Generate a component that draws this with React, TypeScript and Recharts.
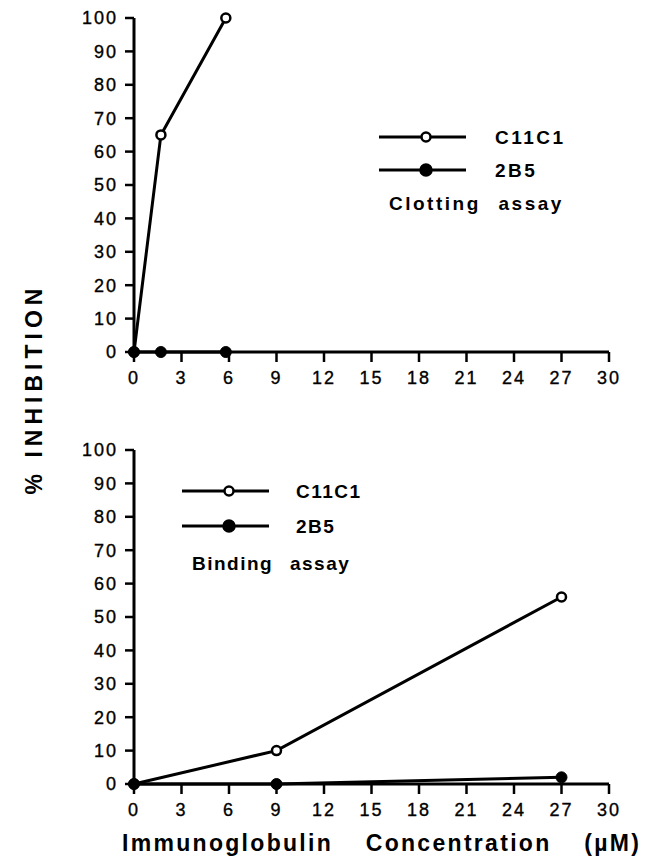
import React from "react";
import { LineChart, Line, XAxis, YAxis, Legend } from "recharts";

// concentration axis (µM) and % inhibition axis
const xTicks = [0, 3, 6, 9, 12, 15, 18, 21, 24, 27, 30];
const yTicks = [0, 10, 20, 30, 40, 50, 60, 70, 80, 90, 100];

// clotting assay
const clottingDose = [0, 1.7, 5.8];
const clottingC11C1 = [0, 65, 100];
const clotting2B5 = [0, 0, 0];

// binding assay
const bindingDose = [0, 9, 27];
const bindingC11C1 = [0, 10, 56];
const binding2B5 = [0, 0, 2];

const seriesNames = ["C11C1", "2B5"];

const FONT = "'Liberation Sans', Arial, Helvetica, sans-serif";

const clottingData = clottingDose.map((d, i) => ({
  dose: d,
  C11C1: clottingC11C1[i],
  "2B5": clotting2B5[i],
}));

const bindingData = bindingDose.map((d, i) => ({
  dose: d,
  C11C1: bindingC11C1[i],
  "2B5": binding2B5[i],
}));

interface LegendBoxProps {
  payload?: any[];
  assay: string;
  rows: number[];
  markerX: number;
  textX: number;
  fontSize: number;
  letterSpacing: number;
  wordSpacing: number;
}

function LegendBox({ payload, assay, rows, markerX, textX, fontSize, letterSpacing, wordSpacing }: LegendBoxProps) {
  // keep the figure's order (C11C1 first) whatever order the payload comes in
  const present = payload && payload.length ? payload.map((p) => String(p.value)) : seriesNames;
  const entries = seriesNames.filter((n) => present.includes(n));
  return (
    <svg width={260} height={110} style={{ overflow: "visible" }}>
      {entries.map((name, i) => (
        <g key={name}>
          <line x1={0} x2={87} y1={rows[i]} y2={rows[i]} stroke="#000" strokeWidth={3} />
          <circle
            cx={markerX}
            cy={rows[i]}
            r={name === "C11C1" ? 4.5 : 5.5}
            fill={name === "C11C1" ? "#fff" : "#000"}
            stroke="#000"
            strokeWidth={2.5}
          />
          <text
            x={textX}
            y={rows[i]}
            dominantBaseline="central"
            fontFamily={FONT}
            fontWeight="bold"
            fontSize={fontSize}
            letterSpacing={letterSpacing}
          >
            {name}
          </text>
        </g>
      ))}
      <text
        x={10}
        y={rows[2]}
        dominantBaseline="central"
        fontFamily={FONT}
        fontWeight="bold"
        fontSize={fontSize}
        letterSpacing={letterSpacing}
        wordSpacing={wordSpacing}
      >
        {assay}
      </text>
    </svg>
  );
}

interface PanelProps {
  data: any[];
  legend: React.ReactElement;
  legendLeft: number;
  legendTop: number;
}

function Panel({ data, legend, legendLeft, legendTop }: PanelProps) {
  const tickStyle = {
    fill: "#000",
    stroke: "#000",
    strokeWidth: 0.35,
    fontSize: 18,
    fontFamily: FONT,
    letterSpacing: 2,
  };
  return (
    <LineChart width={649} height={400} data={data} margin={{ top: 18, right: 40, bottom: 0, left: 0 }}>
      <XAxis
        dataKey="dose"
        type="number"
        domain={[0, 30]}
        ticks={xTicks}
        interval={0}
        height={48}
        tickSize={10}
        tickMargin={9}
        axisLine={{ stroke: "#000", strokeWidth: 3 }}
        tickLine={{ stroke: "#000", strokeWidth: 2.5 }}
        tick={tickStyle}
      />
      <YAxis
        type="number"
        domain={[0, 100]}
        ticks={yTicks}
        interval={0}
        width={134}
        tickSize={9}
        tickMargin={7}
        axisLine={{ stroke: "#000", strokeWidth: 3 }}
        tickLine={{ stroke: "#000", strokeWidth: 2.5 }}
        tick={tickStyle}
      />
      <Legend
        layout="vertical"
        align="center"
        verticalAlign="middle"
        wrapperStyle={{ position: "absolute", left: legendLeft, top: legendTop, width: 260, height: 110 }}
        content={legend}
      />
      <Line
        dataKey="C11C1"
        name="C11C1"
        stroke="#000"
        strokeWidth={3}
        dot={{ r: 4.5, fill: "#fff", stroke: "#000", strokeWidth: 2.5 }}
        isAnimationActive={false}
      />
      <Line
        dataKey="2B5"
        name="2B5"
        stroke="#000"
        strokeWidth={3}
        dot={{ r: 5.5, fill: "#000", stroke: "#000", strokeWidth: 1 }}
        isAnimationActive={false}
      />
    </LineChart>
  );
}

export default function App() {
  return (
    <div style={{ position: "absolute", left: 0, top: 0, width: 649, height: 863, background: "#fff" }}>
      <div style={{ position: "absolute", left: 0, top: 0 }}>
        <Panel
          data={clottingData}
          legendLeft={379}
          legendTop={120}
          legend={
            <LegendBox
              assay="Clotting assay"
              rows={[17, 50, 83]}
              markerX={47}
              textX={116}
              fontSize={19}
              letterSpacing={2.5}
              wordSpacing={10}
            />
          }
        />
      </div>
      <div style={{ position: "absolute", left: 0, top: 432 }}>
        <Panel
          data={bindingData}
          legendLeft={182}
          legendTop={42}
          legend={
            <LegendBox
              assay="Binding assay"
              rows={[17, 52, 89]}
              markerX={47}
              textX={114}
              fontSize={19}
              letterSpacing={1.5}
              wordSpacing={10}
            />
          }
        />
      </div>
      <svg
        width={649}
        height={863}
        style={{ position: "absolute", left: 0, top: 0, pointerEvents: "none" }}
      >
        <text
          x={34}
          y={389}
          transform="rotate(-90 34 389)"
          textAnchor="middle"
          dominantBaseline="central"
          fontFamily={FONT}
          fontWeight="bold"
          fontSize={23}
          letterSpacing={5}
        >
          % INHIBITION
        </text>
        <text x={122} y={851} fontFamily={FONT} fontWeight="bold" fontSize={23} letterSpacing={2.3} wordSpacing={24}>
          Immunoglobulin Concentration (µM)
        </text>
      </svg>
    </div>
  );
}
